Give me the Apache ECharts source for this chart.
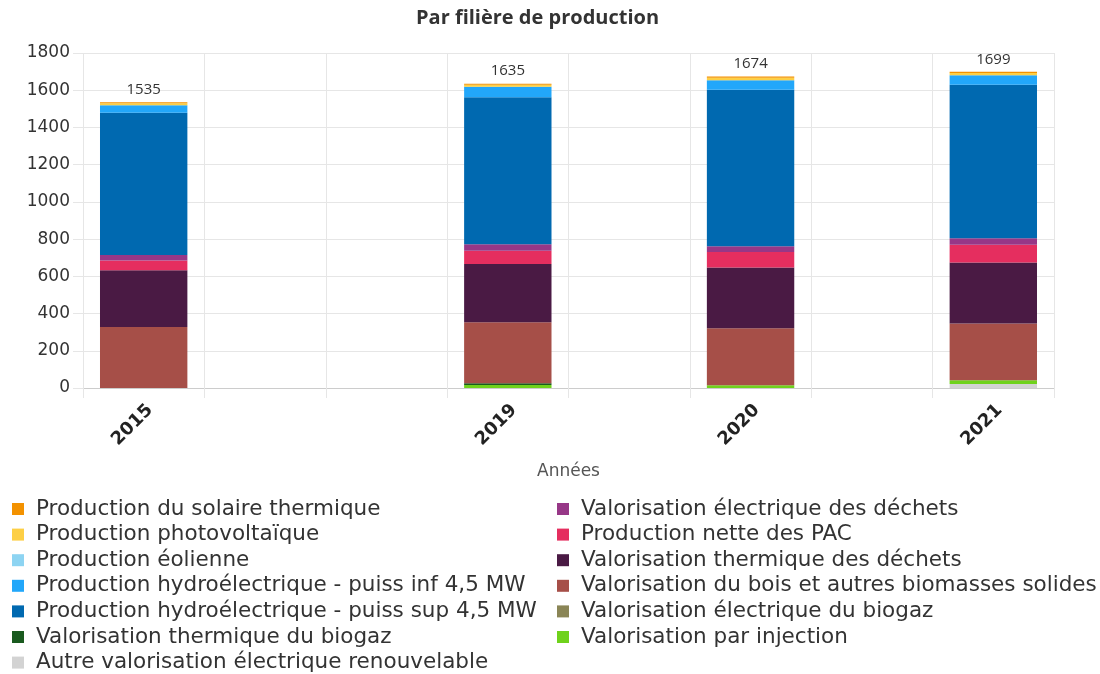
<!DOCTYPE html>
<html>
<head>
<meta charset="utf-8">
<script src="https://cdn.jsdelivr.net/npm/echarts@6/dist/echarts.min.js"></script>
<style>
html,body{margin:0;padding:0;background:#fff;}
#chart{width:1100px;height:674px;}
</style>
</head>
<body>
<div id="chart"></div>
<script>
// ---- Data ----
const years = ['2015', '2019', '2020', '2021'];
const totals = [1535, 1635, 1674, 1699];

const autreElec      = [0, 0, 0, 22];
const injection      = [0, 16, 15, 20];
const thermBiogaz    = [0, 9, 0, 0];
const elecBiogaz     = [0, 0, 0, 0];
const bois           = [328, 328, 306, 305];
const thermDechets   = [305, 313, 327, 328];
const pac            = [52, 72, 83, 95];
const elecDechets    = [30, 34, 30, 34];
const hydroSup       = [764, 790, 842, 826];
const hydroInf       = [40, 57, 50, 50];
const eolien         = [0, 0, 0, 0];
const photovolt      = [11, 11, 14, 12];
const solaireTherm   = [5, 5, 7, 7];

// ---- Layout: category slots (years are not evenly spaced in the reference) ----
const slotCount = 8;
const slotOf = [0, 3, 5, 7];

const cats = new Array(slotCount).fill('');
years.forEach((y, i) => { cats[slotOf[i]] = y; });
function toSlots(arr) {
  const out = new Array(slotCount).fill(null);
  arr.forEach((v, i) => { out[slotOf[i]] = v; });
  return out;
}
const totalSlots = toSlots(totals);

const seriesDefs = [
  ['Autre valorisation électrique renouvelable', autreElec, '#D3D3D3'],
  ['Valorisation par injection', injection, '#6FD21C'],
  ['Valorisation thermique du biogaz', thermBiogaz, '#1A5A1F'],
  ['Valorisation électrique du biogaz', elecBiogaz, '#8A8556'],
  ['Valorisation du bois et autres biomasses solides', bois, '#A64F48'],
  ['Valorisation thermique des déchets', thermDechets, '#4A1A44'],
  ['Production nette des PAC', pac, '#E52E5F'],
  ['Valorisation électrique des déchets', elecDechets, '#973787'],
  ['Production hydroélectrique - puiss sup 4,5 MW', hydroSup, '#0069B0'],
  ['Production hydroélectrique - puiss inf 4,5 MW', hydroInf, '#22A7FA'],
  ['Production éolienne', eolien, '#8DD4F2'],
  ['Production photovoltaïque', photovolt, '#FDCF45'],
  ['Production du solaire thermique', solaireTherm, '#F39200']
];

const FONT = 'Open Sans';
const WIDE = 'DejaVu Sans';

const series = seriesDefs.map((d, idx) => {
  const s = {
    name: d[0],
    type: 'bar',
    stack: 'total',
    barWidth: '72%',
    data: toSlots(d[1]),
    itemStyle: { color: d[2] },
    emphasis: { disabled: true }
  };
  if (idx === seriesDefs.length - 1) {
    s.label = {
      show: true,
      position: 'top',
      distance: 5,
      fontFamily: FONT,
      fontSize: 15,
      color: '#333',
      formatter: p => (totalSlots[p.dataIndex] == null ? '' : String(totalSlots[p.dataIndex]))
    };
  }
  return s;
});

const legendLeft = [
  'Production du solaire thermique',
  'Production photovoltaïque',
  'Production éolienne',
  'Production hydroélectrique - puiss inf 4,5 MW',
  'Production hydroélectrique - puiss sup 4,5 MW',
  'Valorisation thermique du biogaz',
  'Autre valorisation électrique renouvelable'
];
const legendRight = [
  'Valorisation électrique des déchets',
  'Production nette des PAC',
  'Valorisation thermique des déchets',
  'Valorisation du bois et autres biomasses solides',
  'Valorisation électrique du biogaz',
  'Valorisation par injection'
];

const legendCommon = {
  orient: 'vertical',
  top: 498,
  height: 200,
  padding: 0,
  itemWidth: 12,
  itemHeight: 12,
  itemGap: 3.6,
  icon: 'rect',
  selectedMode: false,
  textStyle: { fontFamily: WIDE, fontSize: 21.5, color: '#333', padding: [0, 0, 0, 7] }
};

const chart = echarts.init(document.getElementById('chart'));
chart.setOption({
  animation: false,
  title: {
    text: 'Par filière de production',
    left: 411,
    top: 3,
    textStyle: { fontFamily: FONT, fontSize: 20, fontWeight: 'bold', color: '#333' }
  },
  legend: [
    Object.assign({}, legendCommon, { left: 12, data: legendLeft }),
    Object.assign({}, legendCommon, { left: 557, data: legendRight })
  ],
  grid: { left: 83, right: 46, top: 53, bottom: 286, containLabel: false },
  xAxis: {
    type: 'category',
    data: cats,
    name: 'Années',
    nameLocation: 'middle',
    nameGap: 75,
    nameTextStyle: { fontFamily: WIDE, fontSize: 17, color: '#555' },
    axisLine: { lineStyle: { color: '#ccc' } },
    axisTick: { show: true, length: 10, lineStyle: { color: '#e6e6e6' } },
    splitLine: { show: true, lineStyle: { color: '#e6e6e6' } },
    axisLabel: {
      interval: 0,
      rotate: 45,
      margin: 13,
      verticalAlign: 'top',
      fontFamily: WIDE,
      fontSize: 18,
      fontWeight: 'bold',
      color: '#222'
    }
  },
  yAxis: {
    type: 'value',
    min: 0,
    max: 1800,
    interval: 200,
    axisLine: { show: false },
    axisTick: { show: true, length: 10, lineStyle: { color: '#e6e6e6' } },
    splitLine: { lineStyle: { color: '#e6e6e6' } },
    axisLabel: { margin: 13, fontFamily: WIDE, fontSize: 17, color: '#333', formatter: v => String(v) }
  },
  series: series
});
</script>
</body>
</html>
